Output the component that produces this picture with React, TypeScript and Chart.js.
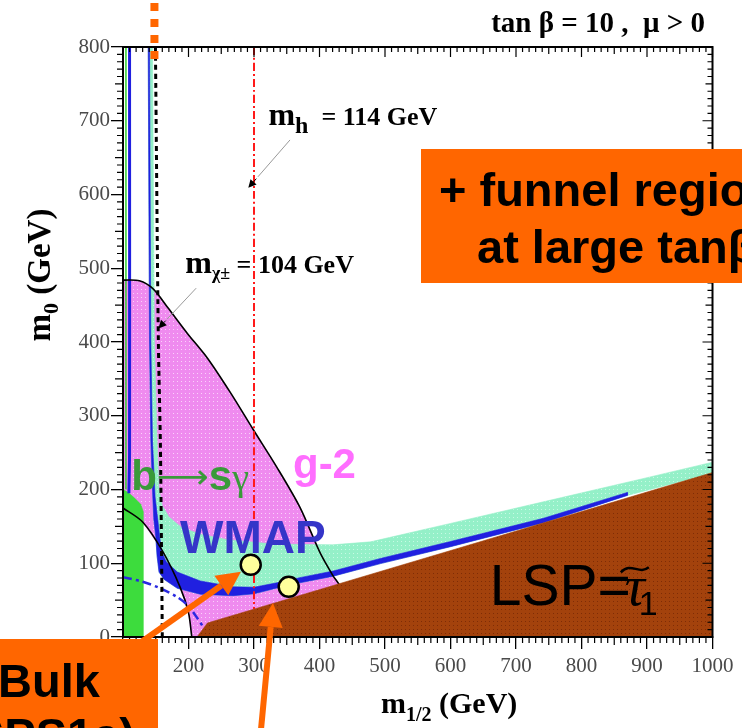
import React, { useEffect, useRef } from "react";
import { Chart, registerables } from "chart.js";

Chart.register(...registerables);

type Pt = [number, number];

// axes (GeV)
const m12Min = 100;
const m12Max = 1000;
const m0Min = 0;
const m0Max = 800;
const m12Ticks = [100, 200, 300, 400, 500, 600, 700, 800, 900, 1000];
const m0Ticks = [0, 100, 200, 300, 400, 500, 600, 700, 800];

// g-2 favoured region, outer boundary (m1/2, m0)
const gm2Edge: Pt[] = [
  [100, 484], [125, 483], [146, 472], [168, 447], [198, 412], [229, 378], [265, 330],
  [299, 281], [335, 230], [370, 176], [401, 114], [420, 84], [432, 68], [440, 45], [446, 0],
];
// lower-left excluded corner
const lepEdge: Pt[] = [[100, 175], [130, 156], [160, 117], [187, 68], [200, 33], [205, 0]];
// b -> s gamma excluded
const bsgRegion: Pt[] = [[100, 0], [131, 0], [131, 170], [127, 180], [118, 188], [108, 196], [100, 200]];
const bsgStrip: Pt[] = [[104.5, 800], [104.5, 200]];
// 0.1 < Omega h^2 < 0.3, upper edge
const relicTop: Pt[] = [
  [140.5, 800], [145, 800], [148, 400], [152, 267], [155, 200], [160, 178], [170, 163], [190, 148],
  [220, 139], [260, 132], [330, 126], [420, 125], [478, 129], [600, 154], [750, 185], [900, 216], [1000, 237],
];
const relicCorner: Pt[] = [[1000, 222]];
// WMAP strip
const wmapUpper: Pt[] = [
  [140.5, 800], [142.5, 400], [145, 267], [149, 190], [153, 160], [156, 136], [159, 116], [166, 102],
  [183, 88], [218, 76], [268, 68], [300, 67.5], [335, 73.5], [370, 80.5], [421, 89.5], [493, 106.5],
  [600, 129.5], [742, 161], [870, 196],
];
const wmapLower: Pt[] = [
  [870, 192], [742, 155], [600, 122.5], [493, 99.5], [421, 82.5], [370, 73.5], [335, 66.5], [300, 58.5],
  [268, 56], [218, 58], [183, 66], [163, 78], [155, 88], [152, 110], [150, 136], [147, 160], [145.5, 190],
  [142.5, 267], [140.5, 400], [138.5, 800],
];
const wmapLeftStrip: Pt[] = [[110, 800], [110, 250], [109, 195]];
// stau LSP region
const stauRegion: Pt[] = [[213, 0], [229, 19], [1000, 223], [1000, 0]];
// Higgs and chargino mass limits
const higgsLimit: Pt[] = [[300, 800], [300, 38]];
const charginoLimit: Pt[] = [[149.5, 800], [154, 400], [157, 267], [159, 100], [160, 0]];
const higgsLimitLow: Pt[] = [[100, 81], [130, 75], [157, 66], [183, 54], [200, 42], [210, 30], [223, 13]];
// benchmark points
const benchmarks: Pt[] = [[295, 98], [353, 68]];
const coannTarget: Pt = [329, 46];

// label anchors (m1/2, m0)
const bsgLabelAt: Pt = [112.5, 199];
const gm2LabelAt: Pt = [359.5, 216];
const wmapLabelAt: Pt = [187, 114];
const lspLabelAt: Pt = [660, 43];
const mhLabelAt: Pt = [322, 694];
const mhPointer: Pt[] = [[355, 674], [306, 624]];
const mchiLabelAt: Pt = [195, 494];
const mchiPointer: Pt[] = [[211.7, 473], [167.4, 431]];

const ORANGE = "#ff6600";
const SERIF = '"Liberation Serif", "Times New Roman", serif';
const SANS = '"Liberation Sans", Arial, sans-serif';

const xy = (pts: Pt[]) => pts.map(([x, y]) => ({ x, y }));

function dotted(base: string, dot: string, step = 4): CanvasPattern | string {
  const c = document.createElement("canvas");
  c.width = step;
  c.height = step;
  const g = c.getContext("2d");
  if (!g) return base;
  g.fillStyle = base;
  g.fillRect(0, 0, step, step);
  g.fillStyle = dot;
  g.fillRect(1, 1, 1, 1);
  return g.createPattern(c, "repeat") || base;
}

function drawArrow(ctx: CanvasRenderingContext2D, x0: number, y0: number, x1: number, y1: number,
  width: number, head: number, headW: number, color: string) {
  const a = Math.atan2(y1 - y0, x1 - x0);
  const bx = x1 - Math.cos(a) * head;
  const by = y1 - Math.sin(a) * head;
  ctx.strokeStyle = color;
  ctx.lineWidth = width;
  ctx.setLineDash([]);
  ctx.beginPath();
  ctx.moveTo(x0, y0);
  ctx.lineTo(bx, by);
  ctx.stroke();
  ctx.fillStyle = color;
  ctx.beginPath();
  ctx.moveTo(x1, y1);
  ctx.lineTo(bx + Math.sin(a) * headW, by - Math.cos(a) * headW);
  ctx.lineTo(bx - Math.sin(a) * headW, by + Math.cos(a) * headW);
  ctx.closePath();
  ctx.fill();
}

type Run = { t: string; font: string; dy?: number };
function drawRuns(ctx: CanvasRenderingContext2D, x: number, y: number, parts: Run[]) {
  for (const p of parts) {
    ctx.font = p.font;
    ctx.fillText(p.t, x, y + (p.dy || 0));
    x += ctx.measureText(p.t).width;
  }
  return x;
}
function runsWidth(ctx: CanvasRenderingContext2D, parts: Run[]) {
  let w = 0;
  for (const p of parts) {
    ctx.font = p.font;
    w += ctx.measureText(p.t).width;
  }
  return w;
}

const overlay = {
  id: "overlay",
  afterDraw(chart: any) {
    const { ctx, chartArea: a } = chart;
    const xs = chart.scales.x;
    const ys = chart.scales.y;
    const X = (v: number) => xs.getPixelForValue(v);
    const Y = (v: number) => ys.getPixelForValue(v);
    ctx.save();
    ctx.textAlign = "left";
    ctx.textBaseline = "alphabetic";

    // minor ticks and frame
    ctx.strokeStyle = "#000";
    ctx.lineWidth = 1.2;
    ctx.setLineDash([]);
    ctx.beginPath();
    for (let v = m12Min; v <= m12Max; v += 10) {
      const p = X(v);
      const major = v % 100 === 0;
      const mid = v % 50 === 0;
      const top = major ? 10 : mid ? 7 : 5;
      ctx.moveTo(p, a.top);
      ctx.lineTo(p, a.top + top);
      if (!major) {
        ctx.moveTo(p, a.bottom);
        ctx.lineTo(p, a.bottom + (mid ? 8 : 6));
      }
    }
    for (let v = m0Min; v <= m0Max; v += 10) {
      const p = Y(v);
      const major = v % 100 === 0;
      const mid = v % 50 === 0;
      if (!major) {
        ctx.moveTo(a.left, p);
        ctx.lineTo(a.left - (mid ? 8 : 6), p);
      }
      ctx.moveTo(a.right, p);
      ctx.lineTo(a.right - (major ? 10 : mid ? 7 : 5), p);
    }
    ctx.stroke();
    ctx.lineWidth = 2;
    ctx.strokeRect(a.left, a.top, a.right - a.left, a.bottom - a.top);

    // title
    ctx.fillStyle = "#000";
    ctx.font = `bold 29px ${SERIF}`;
    ctx.textAlign = "right";
    ctx.fillText("tan \u03b2 = 10 ,  \u03bc > 0", 705, 32);
    ctx.textAlign = "left";

    // axis titles
    const xt: Run[] = [
      { t: "m", font: `bold 30px ${SERIF}` },
      { t: "1/2", font: `bold 20px ${SERIF}`, dy: 8 },
      { t: " (GeV)", font: `bold 30px ${SERIF}` },
    ];
    drawRuns(ctx, 381, 713, xt);
    const yt: Run[] = [
      { t: "m", font: `bold 33px ${SERIF}` },
      { t: "0", font: `bold 22px ${SERIF}`, dy: 8 },
      { t: " (GeV)", font: `bold 33px ${SERIF}` },
    ];
    ctx.save();
    ctx.translate(50, 275);
    ctx.rotate(-Math.PI / 2);
    drawRuns(ctx, -runsWidth(ctx, yt) / 2, 0, yt);
    ctx.restore();

    // limit labels with pointers
    ctx.fillStyle = "#000";
    drawRuns(ctx, X(mhLabelAt[0]), Y(mhLabelAt[1]), [
      { t: "m", font: `bold 32px ${SERIF}` },
      { t: "h", font: `bold 24px ${SERIF}`, dy: 8 },
      { t: "  = 114 GeV", font: `bold 26px ${SERIF}` },
    ]);
    drawRuns(ctx, X(mchiLabelAt[0]), Y(mchiLabelAt[1]), [
      { t: "m", font: `bold 32px ${SERIF}` },
      { t: "\u03c7\u00b1", font: `bold 18px ${SERIF}`, dy: 6 },
      { t: " = 104 GeV", font: `bold 26px ${SERIF}` },
    ]);
    for (const ptr of [mhPointer, mchiPointer]) {
      const x0 = X(ptr[0][0]), y0 = Y(ptr[0][1]);
      const x1 = X(ptr[1][0]), y1 = Y(ptr[1][1]);
      ctx.strokeStyle = "#999";
      ctx.lineWidth = 1;
      ctx.beginPath();
      ctx.moveTo(x0, y0);
      ctx.lineTo(x1, y1);
      ctx.stroke();
      drawArrow(ctx, x1 + (x1 - x0) * 0.05, y1 + (y1 - y0) * 0.05,
        x1 + (x1 - x0) * 0.3, y1 + (y1 - y0) * 0.3, 1, 8, 4, "#000");
    }

    // region labels
    {
      let x = X(bsgLabelAt[0]);
      const y = Y(bsgLabelAt[1]);
      ctx.fillStyle = "#3a9a3a";
      x = drawRuns(ctx, x, y, [{ t: "b", font: `bold 42px ${SANS}` }]);
      ctx.font = `26px "DejaVu Sans", sans-serif`;
      const aw = ctx.measureText("\u27f6").width;
      ctx.save();
      ctx.translate(x, y - 13);
      ctx.scale(52 / aw, 1.3);
      ctx.fillText("\u27f6", 0, 8);
      ctx.restore();
      x += 52;
      drawRuns(ctx, x, y, [
        { t: "s", font: `bold 42px ${SANS}` },
        { t: "\u03b3", font: `38px ${SERIF}` },
      ]);
    }
    ctx.fillStyle = "#ff6eff";
    ctx.font = `bold 42px ${SANS}`;
    ctx.fillText("g-2", X(gm2LabelAt[0]), Y(gm2LabelAt[1]));
    ctx.fillStyle = "#3535c8";
    ctx.font = `bold 46px ${SANS}`;
    ctx.fillText("WMAP", X(wmapLabelAt[0]), Y(wmapLabelAt[1]));
    {
      const x0 = X(lspLabelAt[0]);
      const y0 = Y(lspLabelAt[1]);
      ctx.fillStyle = "#000";
      let x = drawRuns(ctx, x0, y0, [{ t: "LSP=", font: `57px ${SANS}` }]);
      x -= 6;
      ctx.font = `italic 56px ${SERIF}`;
      ctx.fillText("\u03c4", x, y0);
      const tw = ctx.measureText("\u03c4").width;
      ctx.strokeStyle = "#000";
      ctx.lineWidth = 2.5;
      ctx.beginPath();
      ctx.moveTo(x - 4, y0 - 33);
      ctx.bezierCurveTo(x + 6, y0 - 44, x + 14, y0 - 30, x + 24, y0 - 38);
      ctx.stroke();
      ctx.font = `34px ${SANS}`;
      ctx.fillText("1", x + tw - 6, y0 + 10);
    }

    // arrows to benchmark points
    const b1x = X(benchmarks[0][0]), b1y = Y(benchmarks[0][1]);
    const sx = 130, sy = 650;
    const d = Math.hypot(b1x - sx, b1y - sy);
    drawArrow(ctx, sx, sy, b1x - ((b1x - sx) / d) * 12, b1y - ((b1y - sy) / d) * 12, 6, 24, 12, ORANGE);
    drawArrow(ctx, 260, 740, X(coannTarget[0]), Y(coannTarget[1]), 6, 24, 12, ORANGE);

    // marker above the chargino limit
    ctx.strokeStyle = ORANGE;
    ctx.lineWidth = 8;
    ctx.setLineDash([8, 8]);
    ctx.beginPath();
    ctx.moveTo(X(148), 3);
    ctx.lineTo(X(148), 59);
    ctx.stroke();
    ctx.setLineDash([]);

    // callout boxes
    ctx.fillStyle = ORANGE;
    ctx.fillRect(421, 149, 340, 134);
    ctx.fillRect(0, 639, 158, 100);
    ctx.fillStyle = "#000";
    ctx.font = `bold 47px ${SANS}`;
    ctx.fillText("+ funnel region", 439, 206);
    ctx.fillText("at large tan\u03b2", 477, 263);
    ctx.fillText("Bulk", -2, 697);
    ctx.textAlign = "right";
    ctx.fillText("(SPS1a)", 135, 751);
    ctx.restore();
  },
};

export default function App() {
  const ref = useRef<HTMLCanvasElement | null>(null);

  useEffect(() => {
    const canvas = ref.current;
    if (!canvas) return;
    const pink = dotted("#ef8bef", "#fbd2fb");
    const mint = dotted("#94f0c8", "#c8fae4");
    const brown = dotted("#a3420c", "#7e2c06");

    const region = (label: string, pts: Pt[], fill: any, edge: string, order: number) => ({
      label,
      data: xy(pts),
      fill: "shape",
      backgroundColor: fill,
      borderColor: edge,
      borderWidth: 0.6,
      pointRadius: 0,
      tension: 0,
      order,
    });
    const curve = (label: string, pts: Pt[], color: string, width: number, dash: number[], order: number) => ({
      label,
      data: xy(pts),
      fill: false,
      borderColor: color,
      backgroundColor: color,
      borderWidth: width,
      borderDash: dash,
      pointRadius: 0,
      tension: 0.3,
      order,
    });

    const tickFont = { family: SERIF, size: 21 };
    const chart = new Chart(canvas, {
      type: "line",
      data: {
        datasets: [
          {
            label: "benchmarks",
            data: xy(benchmarks),
            showLine: false,
            pointRadius: 10,
            pointBackgroundColor: "#ffff9c",
            pointBorderColor: "#000",
            pointBorderWidth: 2.5,
            order: 0,
          },
          region("stau LSP", stauRegion, brown, "#a3420c", 1),
          curve("m_h = 114 GeV", higgsLimit, "#ff1a1a", 2, [8, 3, 2, 3], 2),
          curve("chargino", charginoLimit, "#000", 3, [5, 4], 3),
          curve("m_h low", higgsLimitLow, "#2a2ae0", 2.5, [9, 4, 3, 4], 4),
          curve("g-2 edge", gm2Edge, "#000", 1.6, [], 5),
          curve("LEP edge", lepEdge, "#000", 1.6, [], 6),
          curve("bsg strip", bsgStrip, "#2fcf2f", 1.5, [], 7),
          curve("WMAP left", wmapLeftStrip, "#2020e0", 3, [], 8),
          region("WMAP", [...wmapUpper, ...wmapLower], "#2020e0", "#2020e0", 9),
          region("b->s gamma", bsgRegion, "#3ddc3d", "#3ddc3d", 10),
          region("relic", [...relicTop, ...relicCorner, ...wmapLower], mint, "#94f0c8", 11),
          region("g-2", [...gm2Edge, ...lepEdge.slice().reverse()], pink, "#ef8bef", 12),
        ] as any,
      },
      options: {
        responsive: false,
        devicePixelRatio: 1,
        animation: false,
        events: [],
        layout: { padding: { top: 47, right: 29.5, left: 0, bottom: 0 } },
        plugins: { legend: { display: false }, tooltip: { enabled: false }, title: { display: false } },
        scales: {
          x: {
            type: "linear",
            min: m12Min,
            max: m12Max,
            afterBuildTicks: (s: any) => { s.ticks = m12Ticks.map((value) => ({ value })); },
            afterFit: (s: any) => { s.height = 91; },
            ticks: { color: "#4a4a4a", font: tickFont, padding: 5, maxRotation: 0, callback: (v: any) => String(v) },
            grid: { drawOnChartArea: false, drawTicks: true, tickLength: 12, color: "#000", lineWidth: 1.3 },
            border: { display: true, color: "#000", width: 2 },
          },
          y: {
            type: "linear",
            min: m0Min,
            max: m0Max,
            afterBuildTicks: (s: any) => { s.ticks = m0Ticks.map((value) => ({ value })); },
            afterFit: (s: any) => { s.width = 123; },
            ticks: { color: "#4a4a4a", font: tickFont, padding: 1, callback: (v: any) => String(v) },
            grid: { drawOnChartArea: false, drawTicks: true, tickLength: 12, color: "#000", lineWidth: 1.3 },
            border: { display: true, color: "#000", width: 2 },
          },
        },
      },
      plugins: [overlay],
    } as any);
    return () => chart.destroy();
  }, []);

  return (
    <div style={{ position: "absolute", left: 0, top: 0, width: 742, height: 728, background: "#fff", overflow: "hidden" }}>
      <canvas ref={ref} width={742} height={728} style={{ display: "block" }} />
    </div>
  );
}
